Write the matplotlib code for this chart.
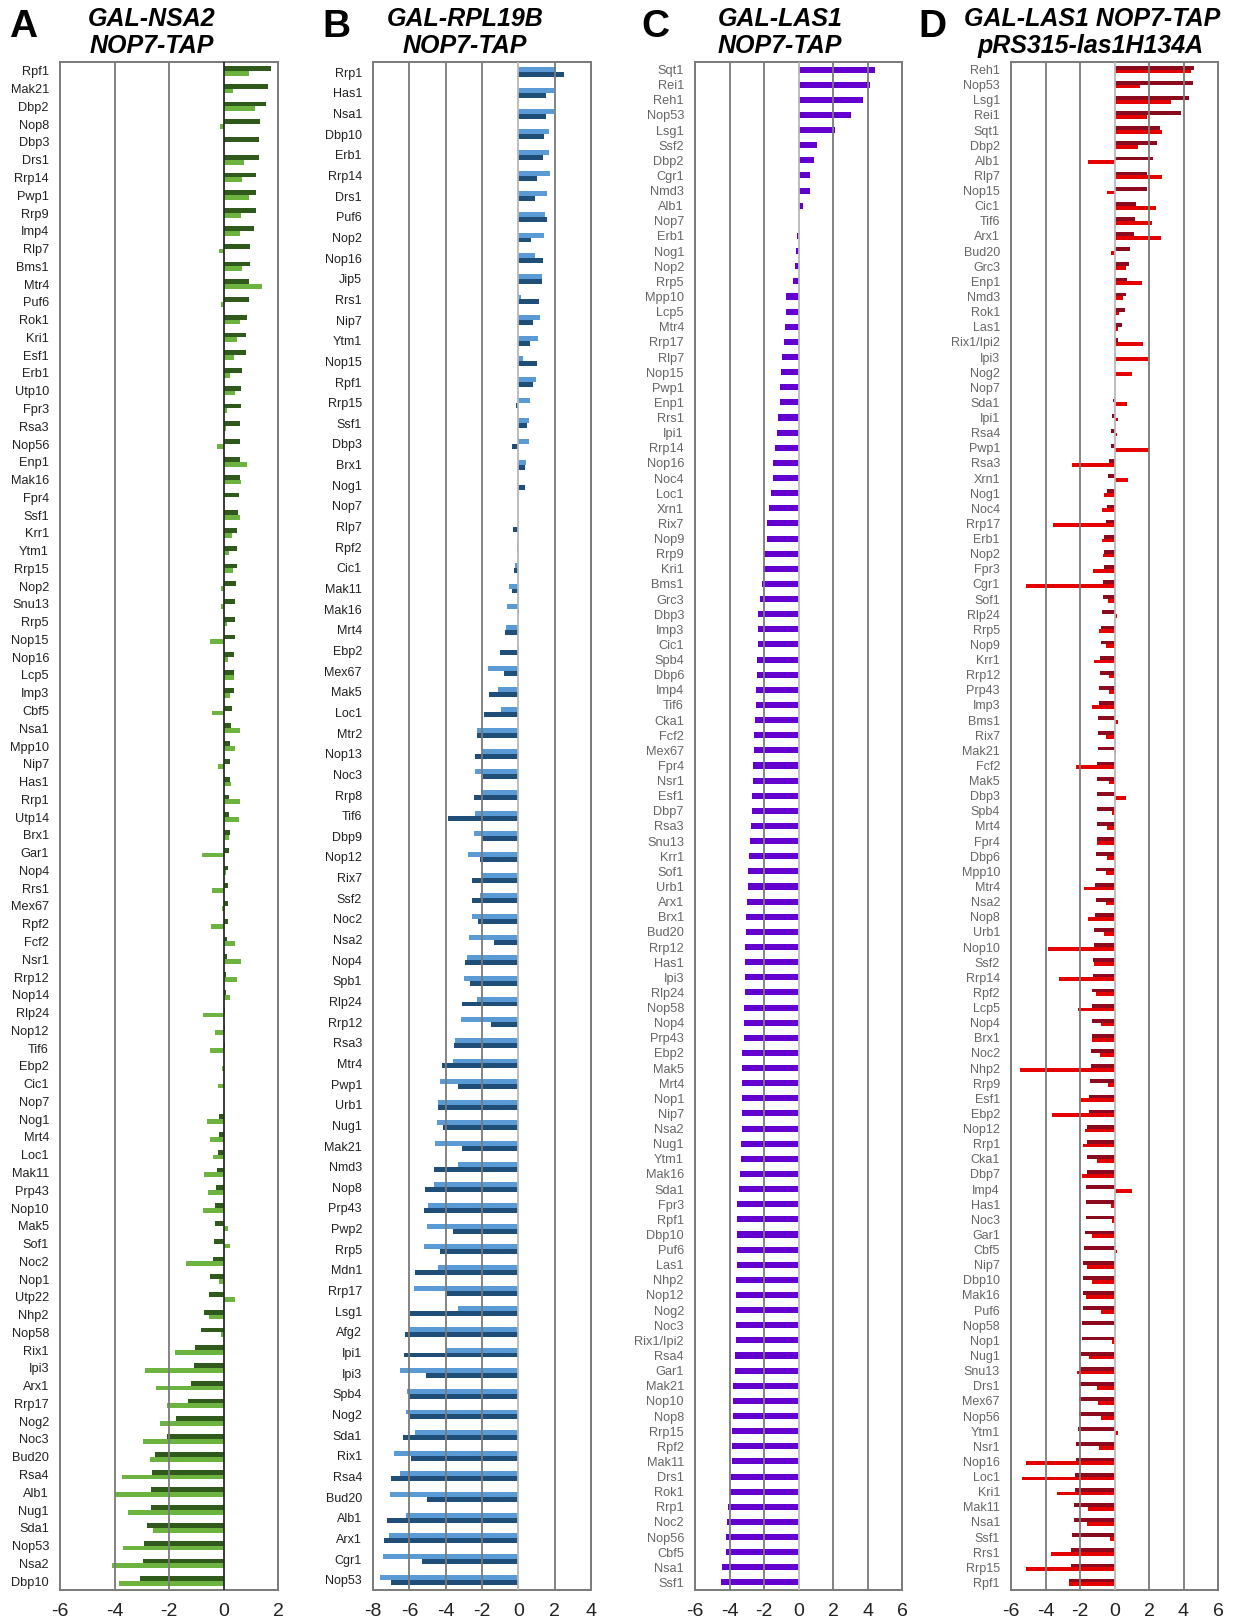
import numpy as np
import matplotlib
matplotlib.use("Agg")
import matplotlib.pyplot as plt

plt.rcParams["font.family"] = ["Liberation Sans", "DejaVu Sans"]
plt.rcParams["axes.unicode_minus"] = False

# ---- panel A: GAL-NSA2 NOP7-TAP ----
a_labels = ["Rpf1", "Mak21", "Dbp2", "Nop8", "Dbp3", "Drs1", "Rrp14", "Pwp1", "Rrp9", "Imp4",
            "Rlp7", "Bms1", "Mtr4", "Puf6", "Rok1", "Kri1", "Esf1", "Erb1", "Utp10", "Fpr3",
            "Rsa3", "Nop56", "Enp1", "Mak16", "Fpr4", "Ssf1", "Krr1", "Ytm1", "Rrp15", "Nop2",
            "Snu13", "Rrp5", "Nop15", "Nop16", "Lcp5", "Imp3", "Cbf5", "Nsa1", "Mpp10", "Nip7",
            "Has1", "Rrp1", "Utp14", "Brx1", "Gar1", "Nop4", "Rrs1", "Mex67", "Rpf2", "Fcf2",
            "Nsr1", "Rrp12", "Nop14", "Rlp24", "Nop12", "Tif6", "Ebp2", "Cic1", "Nop7", "Nog1",
            "Mrt4", "Loc1", "Mak11", "Prp43", "Nop10", "Mak5", "Sof1", "Noc2", "Nop1", "Utp22",
            "Nhp2", "Nop58", "Rix1", "Ipi3", "Arx1", "Rrp17", "Nog2", "Noc3", "Bud20", "Rsa4",
            "Alb1", "Nug1", "Sda1", "Nop53", "Nsa2", "Dbp10"]
a_dark = [1.75, 1.63, 1.55, 1.35, 1.32, 1.29, 1.21, 1.19, 1.19, 1.13,
          0.99, 0.98, 0.92, 0.92, 0.86, 0.84, 0.83, 0.67, 0.66, 0.65,
          0.62, 0.61, 0.61, 0.59, 0.56, 0.55, 0.51, 0.49, 0.48, 0.45,
          0.44, 0.44, 0.42, 0.38, 0.37, 0.37, 0.31, 0.28, 0.24, 0.24,
          0.23, 0.22, 0.22, 0.23, 0.22, 0.17, 0.17, 0.15, 0.15, 0.12,
          0.12, 0.10, 0.10, 0.07, 0.06, 0.05, 0.01, 0.0, 0.0, -0.16,
          -0.17, -0.20, -0.23, -0.28, -0.31, -0.31, -0.34, -0.40, -0.50, -0.54,
          -0.72, -0.83, -1.03, -1.08, -1.21, -1.30, -1.73, -2.07, -2.51, -2.63,
          -2.67, -2.67, -2.82, -2.93, -2.94, -3.05]
a_light = [0.92, 0.34, 1.17, -0.12, 0.0, 0.77, 0.69, 0.94, 0.65, 0.61,
           -0.15, 0.67, 1.41, -0.10, 0.60, 0.49, 0.40, 0.24, 0.42, 0.12,
           0.11, -0.23, 0.87, 0.64, 0.0, 0.59, 0.31, 0.20, 0.34, -0.11,
           -0.09, 0.12, -0.50, 0.17, 0.37, 0.23, -0.44, 0.61, 0.43, -0.22,
           0.28, 0.59, 0.56, 0.21, -0.78, 0.11, -0.44, -0.05, -0.47, 0.44,
           0.64, 0.50, 0.24, -0.77, -0.31, -0.51, -0.07, -0.22, 0.0, -0.59,
           -0.50, -0.40, -0.72, -0.56, -0.75, 0.16, 0.23, -1.36, -0.16, 0.42,
           -0.54, -0.11, -1.77, -2.89, -2.46, -2.09, -2.33, -2.95, -2.68, -3.71,
           -3.99, -3.50, -2.58, -3.70, -4.11, -3.83]

# ---- panel B: GAL-RPL19B NOP7-TAP ----
b_labels = ["Rrp1", "Has1", "Nsa1", "Dbp10", "Erb1", "Rrp14", "Drs1", "Puf6", "Nop2", "Nop16",
            "Jip5", "Rrs1", "Nip7", "Ytm1", "Nop15", "Rpf1", "Rrp15", "Ssf1", "Dbp3", "Brx1",
            "Nog1", "Nop7", "Rlp7", "Rpf2", "Cic1", "Mak11", "Mak16", "Mrt4", "Ebp2", "Mex67",
            "Mak5", "Loc1", "Mtr2", "Nop13", "Noc3", "Rrp8", "Tif6", "Dbp9", "Nop12", "Rix7",
            "Ssf2", "Noc2", "Nsa2", "Nop4", "Spb1", "Rlp24", "Rrp12", "Rsa3", "Mtr4", "Pwp1",
            "Urb1", "Nug1", "Mak21", "Nmd3", "Nop8", "Prp43", "Pwp2", "Rrp5", "Mdn1", "Rrp17",
            "Lsg1", "Afg2", "Ipi1", "Ipi3", "Spb4", "Nog2", "Sda1", "Rix1", "Rsa4", "Bud20",
            "Alb1", "Arx1", "Cgr1", "Nop53"]
b_light = [2.10, 1.98, 1.98, 1.70, 1.68, 1.72, 1.58, 1.48, 1.42, 0.92,
           1.30, 0.12, 1.18, 1.10, 0.26, 0.98, 0.64, 0.56, 0.56, 0.40,
           0.0, 0.0, 0.0, -0.08, -0.16, -0.50, -0.62, -0.68, 0.04, -1.66,
           -1.10, -0.98, -2.28, -1.98, -2.36, -2.04, -2.36, -2.42, -2.76, -2.02,
           -2.12, -2.56, -2.70, -2.82, -3.00, -2.30, -3.18, -3.46, -3.60, -4.32,
           -4.42, -4.48, -4.56, -3.30, -4.62, -4.98, -5.00, -5.22, -4.40, -5.76,
           -3.30, -5.94, -4.00, -6.50, -6.12, -6.18, -5.68, -6.84, -6.52, -7.06,
           -6.18, -7.14, -7.44, -7.62]
b_dark = [2.50, 1.50, 1.52, 1.44, 1.36, 1.04, 0.92, 1.56, 0.72, 1.38,
          1.30, 1.12, 0.78, 0.62, 1.04, 0.82, -0.12, 0.48, -0.34, 0.34,
          0.34, 0.0, -0.28, -0.06, -0.22, -0.34, 0.06, -0.76, -1.00, -0.78,
          -1.62, -1.88, -2.28, -2.38, -1.92, -2.42, -3.88, -1.98, -2.12, -2.56,
          -2.56, -2.22, -1.36, -2.94, -2.64, -3.12, -1.50, -3.52, -4.18, -3.32,
          -4.40, -4.16, -3.12, -4.62, -5.12, -5.18, -3.62, -4.32, -5.70, -3.92,
          -5.96, -6.22, -6.32, -5.08, -6.04, -5.96, -6.34, -5.90, -7.02, -5.00,
          -7.24, -7.40, -5.32, -7.00]

# ---- panel C: GAL-LAS1 NOP7-TAP ----
c_labels = ["Sqt1", "Rei1", "Reh1", "Nop53", "Lsg1", "Ssf2", "Dbp2", "Cgr1", "Nmd3", "Alb1",
            "Nop7", "Erb1", "Nog1", "Nop2", "Rrp5", "Mpp10", "Lcp5", "Mtr4", "Rrp17", "Rlp7",
            "Nop15", "Pwp1", "Enp1", "Rrs1", "Ipi1", "Rrp14", "Nop16", "Noc4", "Loc1", "Xrn1",
            "Rix7", "Nop9", "Rrp9", "Kri1", "Bms1", "Grc3", "Dbp3", "Imp3", "Cic1", "Spb4",
            "Dbp6", "Imp4", "Tif6", "Cka1", "Fcf2", "Mex67", "Fpr4", "Nsr1", "Esf1", "Dbp7",
            "Rsa3", "Snu13", "Krr1", "Sof1", "Urb1", "Arx1", "Brx1", "Bud20", "Rrp12", "Has1",
            "Ipi3", "Rlp24", "Nop58", "Nop4", "Prp43", "Ebp2", "Mak5", "Mrt4", "Nop1", "Nip7",
            "Nsa2", "Nug1", "Ytm1", "Mak16", "Sda1", "Fpr3", "Rpf1", "Dbp10", "Puf6", "Las1",
            "Nhp2", "Nop12", "Nog2", "Noc3", "Rix1/Ipi2", "Rsa4", "Gar1", "Mak21", "Nop10", "Nop8",
            "Rrp15", "Rpf2", "Mak11", "Drs1", "Rok1", "Rrp1", "Noc2", "Nop56", "Cbf5", "Nsa1",
            "Ssf1"]
c_vals = [4.46, 4.15, 3.75, 3.07, 2.13, 1.06, 0.87, 0.66, 0.64, 0.25,
          0.0, -0.08, -0.17, -0.21, -0.33, -0.70, -0.73, -0.77, -0.85, -0.97,
          -0.99, -1.06, -1.10, -1.16, -1.24, -1.39, -1.47, -1.49, -1.58, -1.70,
          -1.82, -1.84, -2.01, -2.03, -2.13, -2.22, -2.34, -2.34, -2.36, -2.40,
          -2.43, -2.45, -2.47, -2.53, -2.57, -2.59, -2.61, -2.65, -2.71, -2.72,
          -2.74, -2.82, -2.88, -2.90, -2.92, -3.01, -3.03, -3.05, -3.09, -3.11,
          -3.13, -3.13, -3.15, -3.15, -3.15, -3.25, -3.25, -3.25, -3.27, -3.27,
          -3.30, -3.34, -3.36, -3.38, -3.44, -3.56, -3.56, -3.56, -3.57, -3.59,
          -3.61, -3.61, -3.61, -3.63, -3.63, -3.69, -3.69, -3.79, -3.81, -3.81,
          -3.85, -3.86, -3.86, -3.90, -4.00, -4.08, -4.14, -4.19, -4.23, -4.43,
          -4.49]

# ---- panel D: GAL-LAS1 NOP7-TAP pRS315-las1H134A ----
d_labels = ["Reh1", "Nop53", "Lsg1", "Rei1", "Sqt1", "Dbp2", "Alb1", "Rlp7", "Nop15", "Cic1",
            "Tif6", "Arx1", "Bud20", "Grc3", "Enp1", "Nmd3", "Rok1", "Las1", "Rix1/Ipi2", "Ipi3",
            "Nog2", "Nop7", "Sda1", "Ipi1", "Rsa4", "Pwp1", "Rsa3", "Xrn1", "Nog1", "Noc4",
            "Rrp17", "Erb1", "Nop2", "Fpr3", "Cgr1", "Sof1", "Rlp24", "Rrp5", "Nop9", "Krr1",
            "Rrp12", "Prp43", "Imp3", "Bms1", "Rix7", "Mak21", "Fcf2", "Mak5", "Dbp3", "Spb4",
            "Mrt4", "Fpr4", "Dbp6", "Mpp10", "Mtr4", "Nsa2", "Nop8", "Urb1", "Nop10", "Ssf2",
            "Rrp14", "Rpf2", "Lcp5", "Nop4", "Brx1", "Noc2", "Nhp2", "Rrp9", "Esf1", "Ebp2",
            "Nop12", "Rrp1", "Cka1", "Dbp7", "Imp4", "Has1", "Noc3", "Gar1", "Cbf5", "Nip7",
            "Dbp10", "Mak16", "Puf6", "Nop58", "Nop1", "Nug1", "Snu13", "Drs1", "Mex67", "Nop56",
            "Ytm1", "Nsr1", "Nop16", "Loc1", "Kri1", "Mak11", "Nsa1", "Ssf1", "Rrs1", "Rrp15",
            "Rpf1"]
d_dark = [4.62, 4.56, 4.33, 3.85, 2.63, 2.45, 2.26, 1.87, 1.86, 1.26,
          1.20, 1.14, 0.89, 0.85, 0.70, 0.68, 0.62, 0.46, 0.21, 0.08,
          0.0, 0.0, -0.08, -0.12, -0.19, -0.21, -0.33, -0.35, -0.43, -0.44,
          -0.48, -0.58, -0.62, -0.62, -0.65, -0.66, -0.70, -0.77, -0.81, -0.85,
          -0.85, -0.89, -0.91, -0.95, -0.97, -0.97, -0.99, -1.00, -1.02, -1.02,
          -1.02, -1.04, -1.08, -1.08, -1.12, -1.10, -1.12, -1.16, -1.16, -1.22,
          -1.24, -1.29, -1.33, -1.33, -1.33, -1.35, -1.39, -1.43, -1.45, -1.47,
          -1.57, -1.60, -1.62, -1.62, -1.64, -1.66, -1.66, -1.70, -1.74, -1.80,
          -1.80, -1.84, -1.84, -1.87, -1.87, -1.97, -2.01, -2.05, -2.05, -2.07,
          -2.13, -2.24, -2.24, -2.28, -2.28, -2.32, -2.32, -2.47, -2.51, -2.53,
          -2.61]
d_mut = [4.46, 1.47, 3.30, 1.89, 2.76, 1.37, -1.55, 2.74, -0.44, 2.43,
         2.16, 2.67, -0.21, 0.66, 1.57, 0.48, 0.27, 0.21, 1.64, 1.93,
         1.02, 0.0, 0.73, 0.19, 0.14, 2.01, -2.45, 0.79, -0.58, -0.73,
         -3.56, -0.73, -0.64, -1.24, -5.12, -0.39, 0.17, -0.87, -0.52, -1.16,
         -0.33, -0.33, -1.31, 0.21, -0.48, 0.06, -2.26, -0.33, 0.68, -0.14,
         -0.41, -1.04, -0.46, -0.50, -1.76, -0.52, -1.53, -0.60, -3.86, -1.20,
         -3.21, -1.08, -2.11, -0.77, -1.29, -0.85, -5.45, -0.37, -1.97, -3.65,
         -1.70, -1.82, -1.04, -1.87, 1.02, -0.19, -0.15, -1.29, 0.14, -1.62,
         -1.29, -1.68, -0.77, 0.10, -0.14, -1.45, -2.16, -1.00, -0.95, -0.79,
         0.23, -0.91, -5.12, -5.35, -3.32, -1.55, -1.62, -0.27, -3.69, -5.14,
         -2.65]

W, H = 1234, 1623
fig = plt.figure(figsize=(W / 100, H / 100), dpi=100)

AX_TOP = 62
AX_BOT = 1590


def px_rect(left, right):
    return [left / W, 1 - AX_BOT / H, (right - left) / W, (AX_BOT - AX_TOP) / H]


def make_panel(left, right, labels, xmin, xmax, zero_color, label_color, label_size):
    ax = fig.add_axes(px_rect(left, right))
    n = len(labels)
    ax.set_xlim(xmin, xmax)
    ax.set_ylim(n - 0.5, -0.5)
    ticks = np.arange(xmin, xmax + 1, 2)
    ax.set_xticks(ticks)
    ax.set_xticklabels([str(t) for t in ticks], fontsize=14, color="#222222")
    ax.set_yticks(np.arange(n))
    ax.set_yticklabels(labels, fontsize=label_size, color=label_color)
    ax.tick_params(axis="both", length=0)
    ax.tick_params(axis="x", pad=9)
    ax.tick_params(axis="y", pad=8)
    for t in ticks[1:-1]:
        c = zero_color if t == 0 else "#7a7a7a"
        ax.axvline(t, color=c, lw=1.3, zorder=3)
    for s in ax.spines.values():
        s.set_color("#7a7a7a")
        s.set_linewidth(1.4)
    return ax


# A
ax = make_panel(60, 278, a_labels, -6, 2, "#2a2a2a", "#222222", 9.2)
y = np.arange(len(a_labels))
h = 0.27
ax.barh(y - h / 2, a_dark, height=h, color="#2f5a1c", zorder=2)
ax.barh(y + h / 2, a_light, height=h, color="#6db33f", zorder=2)

# B
ax = make_panel(373, 591, b_labels, -8, 4, "#b8b8b8", "#222222", 9)
y = np.arange(len(b_labels))
h = 0.24
ax.barh(y - h / 2, b_light, height=h, color="#5b9bd5", zorder=2)
ax.barh(y + h / 2, b_dark, height=h, color="#1f4e79", zorder=2)

# C
ax = make_panel(695, 902, c_labels, -6, 6, "#b8b8b8", "#666666", 9.2)
y = np.arange(len(c_labels))
ax.barh(y, c_vals, height=0.4, color="#6300d0", zorder=2)

# D
ax = make_panel(1011, 1218, d_labels, -6, 6, "#b8b8b8", "#666666", 9)
y = np.arange(len(d_labels))
h = 0.25
ax.barh(y - h / 2, d_dark, height=h, color="#8b0a1e", zorder=2)
ax.barh(y + h / 2, d_mut, height=h, color="#e50000", zorder=2)


# titles and panel letters
def fig_text(x, y, s, **kw):
    fig.text(x / W, 1 - y / H, s, **kw)


title_kw = dict(fontsize=18, fontweight="bold", fontstyle="italic", ha="center", va="baseline")
letter_kw = dict(fontsize=28, fontweight="bold", ha="left", va="baseline")

fig_text(152, 26, "GAL-NSA2", **title_kw)
fig_text(152, 53, "NOP7-TAP", **title_kw)
fig_text(465, 26, "GAL-RPL19B", **title_kw)
fig_text(465, 53, "NOP7-TAP", **title_kw)
fig_text(780, 26, "GAL-LAS1", **title_kw)
fig_text(780, 53, "NOP7-TAP", **title_kw)
fig_text(1092, 26, "GAL-LAS1 NOP7-TAP", **title_kw)
fig_text(1091, 53, "pRS315-las1H134A", **title_kw)

fig_text(9, 37, "A", **letter_kw)
fig_text(322, 37, "B", **letter_kw)
fig_text(641, 37, "C", **letter_kw)
fig_text(918, 37, "D", **letter_kw)

fig.savefig("out.png", dpi=100, facecolor="white")
